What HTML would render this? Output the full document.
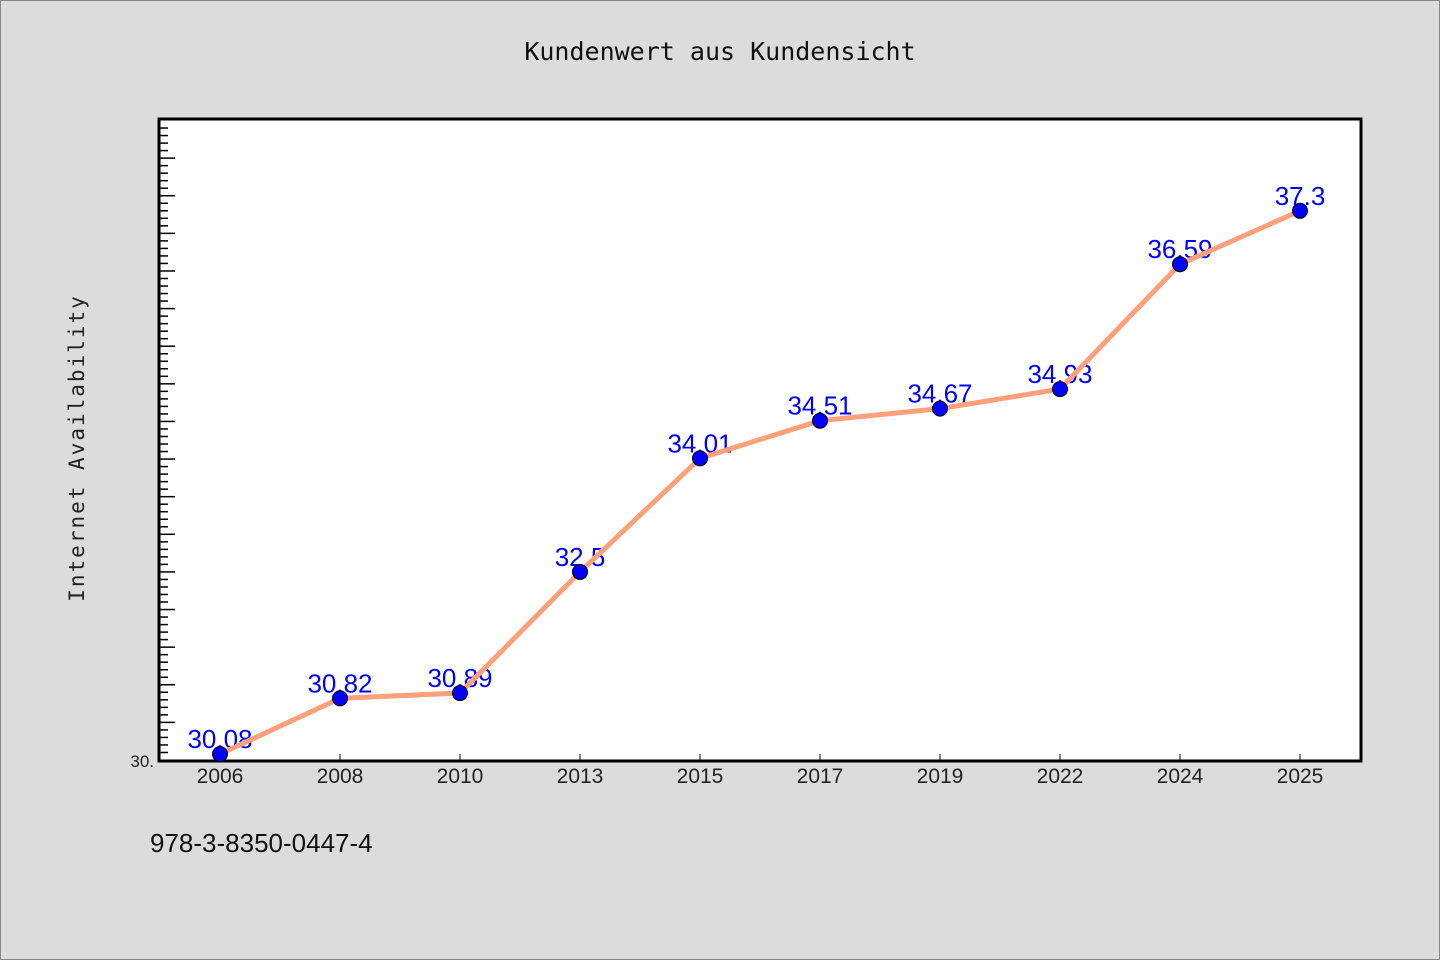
<!DOCTYPE html>
<html><head><meta charset="utf-8"><style>
html,body{margin:0;padding:0;background:#dcdcdc;}
svg{display:block;}
</style></head><body>
<svg width="1440" height="960" xmlns="http://www.w3.org/2000/svg">
<rect x="0.5" y="0.5" width="1439" height="959" fill="#dcdcdc" stroke="#888"/>
<text x="720" y="60" text-anchor="middle" font-family="DejaVu Sans Mono, Liberation Mono, monospace" font-size="25" fill="#111">Kundenwert aus Kundensicht</text>
<rect x="159" y="119" width="1202" height="642" fill="#fff" stroke="#000" stroke-width="3"/>
<text transform="translate(84,448) rotate(-90)" text-anchor="middle" font-family="DejaVu Sans Mono, Liberation Mono, monospace" font-size="21" letter-spacing="2" fill="#222">Internet Availability</text>
<text x="150" y="852" font-family="Liberation Sans, sans-serif" font-size="26" fill="#111">978-3-8350-0447-4</text>
<g id="ticks"></g>
<g id="labels"></g>
<g id="series"></g>
</svg>
<script>
const categories = ["2006","2008","2010","2013","2015","2017","2019","2022","2024","2025"];
const values = [30.08,30.82,30.89,32.5,34.01,34.51,34.67,34.93,36.59,37.3];
const valueLabels = ["30.08","30.82","30.89","32.5","34.01","34.51","34.67","34.93","36.59","37.3"];
const yMin = 30, yMax = 38.52;
const NS = "http://www.w3.org/2000/svg";
const L=159, R=1361, T=119, B=760;
function x(i){ return 220 + i*120; }
function y(v){ return B - (v - yMin) / (yMax - yMin) * (B - T); }
function mk(tag, attrs, parent, text){
  const e=document.createElementNS(NS,tag);
  for(const k in attrs) e.setAttribute(k,attrs[k]);
  if(text!==undefined) e.textContent=text;
  parent.appendChild(e); return e;
}
const tg=document.getElementById('ticks');
for(let k=1;k<=85;k++){
  const v=yMin+k*0.1; const yy=y(v); if(yy<T+3) break;
  const major = k%5===0;
  const t=mk('line',{x1:L,x2:L+(major?16:9),y1:yy,y2:yy,stroke:'#000','stroke-width':1.5},tg);
  
  
}
const yl=mk('text',{x:154,y:767,'text-anchor':'end','font-family':'Liberation Sans, sans-serif','font-size':17,fill:'#222'},tg,'30.');


categories.forEach((c,i)=>{
  const t=mk('line',{x1:x(i),x2:x(i),y1:B-6,y2:B,stroke:'#000','stroke-width':1},tg);
  
  
  const lb=mk('text',{x:x(i),y:783,'text-anchor':'middle','font-family':'Liberation Sans, sans-serif','font-size':21,fill:'#222'},tg,c);
  
  
});
const lg=document.getElementById('labels');
values.forEach((v,i)=>{
  const t=mk('text',{x:x(i),y:y(v)-6,'text-anchor':'middle','font-family':'Liberation Sans, sans-serif','font-size':26,fill:'#0000ff'},lg,valueLabels[i]);
  
  
});
const sg=document.getElementById('series');
const pl=mk('polyline',{points:values.map((v,i)=>x(i)+','+y(v)).join(' '),fill:'none',stroke:'#ffa07a','stroke-width':5,'stroke-linejoin':'round'},sg);


values.forEach((v,i)=>{
  const c=mk('circle',{cx:x(i),cy:y(v),r:7.5,fill:'#0000ff',stroke:'#000','stroke-width':1},sg);
  
  
});
</script>
</body></html>
